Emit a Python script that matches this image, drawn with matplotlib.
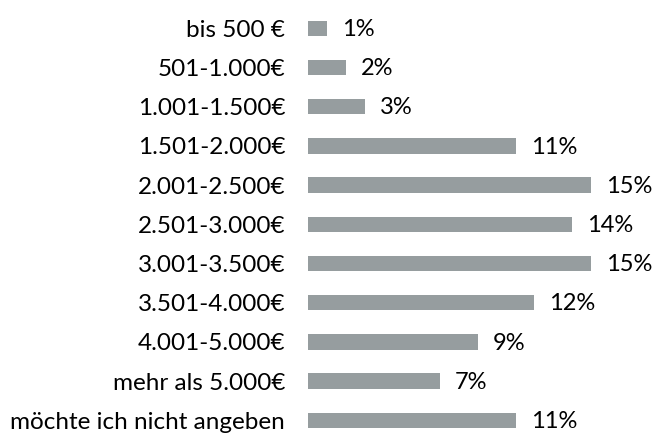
import matplotlib
matplotlib.use("Agg")
import matplotlib.pyplot as plt

plt.rcParams['font.family'] = ['Lato', 'DejaVu Sans']

categories = ['bis 500 €', '501-1.000€', '1.001-1.500€', '1.501-2.000€',
              '2.001-2.500€', '2.501-3.000€', '3.001-3.500€', '3.501-4.000€',
              '4.001-5.000€', 'mehr als 5.000€', 'möchte ich nicht angeben']
values = [1, 2, 3, 11, 15, 14, 15, 12, 9, 7, 11]

bar_color = '#969d9f'

fig = plt.figure(figsize=(6.54, 4.36), dpi=100)
ax = fig.add_axes([308 / 654, 0, 346 / 654, 1])

pos = range(len(categories))
ax.barh(pos, values, height=0.39, color=bar_color)

for i, v in enumerate(values):
    ax.text(v + 0.8, i + 0.03, f'{v}%', va='center', ha='left', fontsize=17, color='#000000')

ax.set_yticks(list(pos))
ax.set_yticklabels(categories, fontsize=17.5, color='#000000')
ax.tick_params(axis='y', length=0, pad=16.5)
ax.set_xticks([])
ax.set_xlim(0, 18.34)
ax.set_ylim(10.40, -0.72)
for s in ax.spines.values():
    s.set_visible(False)

fig.savefig('out.png', dpi=100)
